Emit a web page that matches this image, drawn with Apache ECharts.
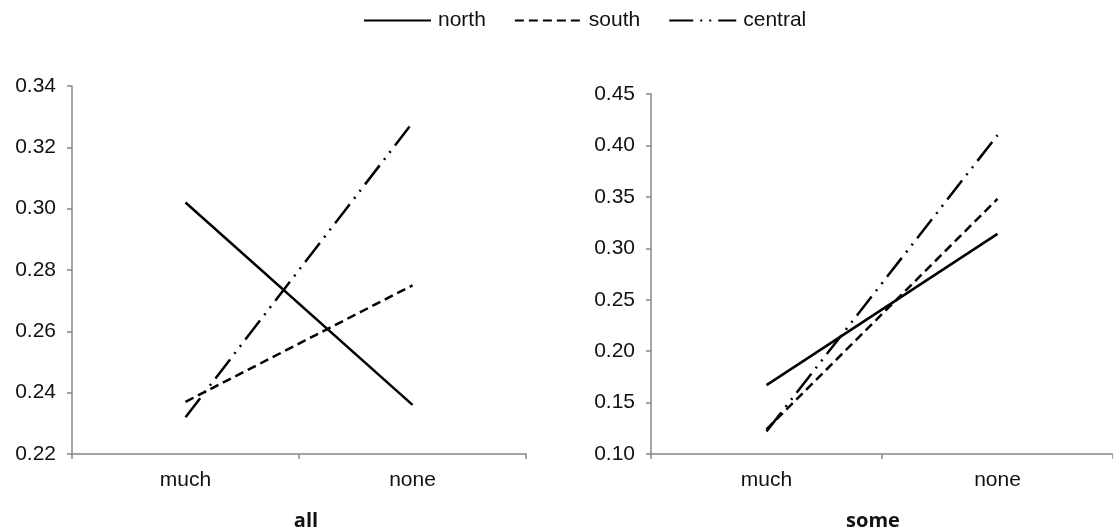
<!DOCTYPE html>
<html><head><meta charset="utf-8">
<script src="https://cdn.jsdelivr.net/npm/echarts@6/dist/echarts.min.js"></script>
<style>html,body{margin:0;padding:0;background:#fff}#c{width:1113px;height:531px}</style>
</head><body><div id="c"></div>
<script>
const categories = ['much', 'none'];
const seriesNames = ['north', 'south', 'central'];
const allNorth = [0.302, 0.236];
const allSouth = [0.237, 0.275];
const allCentral = [0.232, 0.328];
const someNorth = [0.167, 0.314];
const someSouth = [0.124, 0.348];
const someCentral = [0.122, 0.410];
const panelTitles = ['all', 'some'];

const dashes = {
  north: 'solid',
  south: [9, 5],
  central: [24, 7, 2, 7, 2, 7]
};
const axisCol = '#878787';
const txt = '#111';
const font = '"Liberation Sans", Arial, sans-serif';

function mkSeries(name, data, idx) {
  return {
    name: name, type: 'line', data: data, xAxisIndex: idx, yAxisIndex: idx,
    symbol: 'none', silent: true, animation: false,
    lineStyle: { color: '#000', width: 2.5, type: dashes[name] },
    itemStyle: { color: '#000' }
  };
}
function mkX(idx) {
  return {
    type: 'category', gridIndex: idx, data: categories, boundaryGap: true,
    axisLine: { lineStyle: { color: axisCol, width: 1.5 } },
    axisTick: { show: true, length: 5, lineStyle: { color: axisCol, width: 1.5 } },
    axisLabel: { color: txt, fontSize: 21, fontFamily: font, margin: 16 }
  };
}
function mkY(idx, min, max, interval) {
  return {
    type: 'value', gridIndex: idx, min: min, max: max, interval: interval,
    splitLine: { show: false },
    axisLine: { show: true, lineStyle: { color: axisCol, width: 1.5 } },
    axisTick: { show: true, length: 5, lineStyle: { color: axisCol, width: 1.5 } },
    axisLabel: { color: txt, fontSize: 21, fontFamily: font, margin: 16,
      formatter: v => v.toFixed(2) }
  };
}

const chart = echarts.init(document.getElementById('c'), null, { renderer: 'canvas' });
chart.setOption({
  animation: false,
  backgroundColor: '#fff',
  legend: {
    data: seriesNames, top: 5, left: 358, itemWidth: 67, itemHeight: 14, itemGap: 28,
    itemStyle: { opacity: 0, borderWidth: 0 },
    textStyle: { color: txt, fontSize: 21, fontFamily: font, padding: [0, 0, 0, 2] }
  },
  title: [
    { text: panelTitles[0], left: 301, top: 506, textAlign: 'center',
      textStyle: { fontSize: 20, fontWeight: 'bold', color: txt, fontFamily: '"Open Sans", sans-serif' } },
    { text: panelTitles[1], left: 868, top: 506, textAlign: 'center',
      textStyle: { fontSize: 20, fontWeight: 'bold', color: txt, fontFamily: '"Open Sans", sans-serif' } }
  ],
  grid: [
    { left: 72, top: 86, width: 454, height: 368 },
    { left: 651, top: 94, width: 472, height: 360 }
  ],
  xAxis: [mkX(0), mkX(1)],
  yAxis: [mkY(0, 0.22, 0.34, 0.02), mkY(1, 0.10, 0.45, 0.05)],
  series: [
    mkSeries('north', allNorth, 0),
    mkSeries('south', allSouth, 0),
    mkSeries('central', allCentral, 0),
    mkSeries('north', someNorth, 1),
    mkSeries('south', someSouth, 1),
    mkSeries('central', someCentral, 1)
  ]
});
</script></body></html>
